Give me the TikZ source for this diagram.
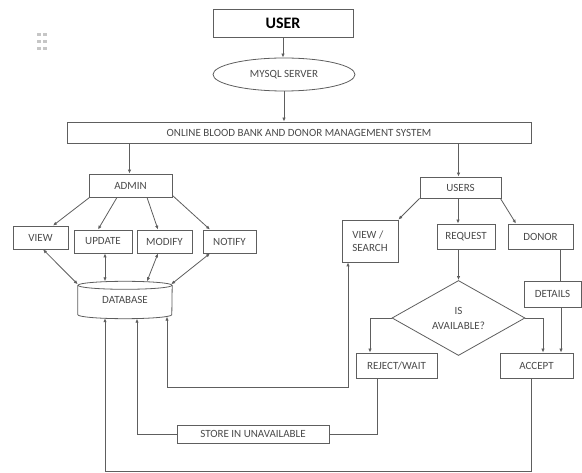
\documentclass[tikz,border=0pt]{standalone}
\usepackage{fontspec}
\setmainfont{Carlito}
\usetikzlibrary{arrows.meta,shapes.geometric,calc}
\definecolor{ln}{HTML}{5E5E5E}
\definecolor{tx}{HTML}{4A4A4A}
\begin{document}
\begin{tikzpicture}[x=1pt,y=-1pt,
  lbl/.style={font=\fontsize{11}{13}\selectfont, text=tx},
  box/.style={draw=ln, line width=0.8pt, rectangle, inner sep=0pt, lbl},
  conn/.style={draw=ln, line width=0.8pt},
  arr/.style={conn, -{Latex[length=4pt,width=3.4pt]}},
  darr/.style={conn, {Latex[length=4pt,width=3.4pt]}-{Latex[length=4pt,width=3.4pt]}}
]
\useasboundingbox (0,0) rectangle (582,473);
% drag handle icon
\foreach \xx in {37,43} \foreach \yy in {33,40,47} \fill[gray!45] (\xx,\yy) rectangle ++(4,3);

% nodes
\node[box, minimum width=140pt, minimum height=28pt, font=\fontsize{16}{18}\selectfont\bfseries, text=black] (user) at (283,23) {USER};
\node[ellipse, draw=ln, line width=0.8pt, inner sep=0pt, minimum width=142pt, minimum height=33pt, lbl] (mysql) at (284,74.5) {MYSQL SERVER};
\node[box, minimum width=464pt, minimum height=21pt] (obb) at (299,132.5) {ONLINE BLOOD BANK AND DONOR MANAGEMENT SYSTEM};
\node[box, minimum width=83pt, minimum height=23pt] (admin) at (130.5,185.5) {ADMIN};
\node[box, minimum width=55pt, minimum height=23pt] (view) at (40.5,237.5) {VIEW};
\node[box, minimum width=58pt, minimum height=23pt] (update) at (103,241.5) {UPDATE};
\node[box, minimum width=55pt, minimum height=23pt] (modify) at (164.5,241.5) {MODIFY};
\node[box, minimum width=53pt, minimum height=23pt] (notify) at (229.5,241.5) {NOTIFY};
\node[inner sep=0pt, minimum width=94pt, minimum height=37pt, lbl] (db) at (125,300) {DATABASE};
\draw[conn] ([yshift=-4pt]db.north) ellipse[x radius=47pt, y radius=4pt];
\draw[conn] ([yshift=-4pt]db.north west) -- ([yshift=4pt]db.south west)
  arc[start angle=180, end angle=360, x radius=47pt, y radius=4pt] -- ([yshift=-4pt]db.north east);

\node[box, minimum width=81pt, minimum height=21pt] (users) at (460.5,187.5) {USERS};
\node[box, minimum width=56pt, minimum height=42pt, align=left] (vsearch) at (370,241) {VIEW /\\SEARCH};
\node[box, minimum width=58pt, minimum height=25pt] (request) at (466,236.5) {REQUEST};
\node[box, minimum width=65pt, minimum height=25pt] (donor) at (540.5,236.5) {DONOR};
\node[box, minimum width=57pt, minimum height=26pt] (details) at (552.5,294) {DETAILS};
\node[diamond, draw=ln, line width=0.8pt, inner sep=0pt, minimum width=133pt, minimum height=66pt, align=center, lbl] (dia) at (458.5,318) {IS\\[2pt]AVAILABLE?};
\node[box, minimum width=81pt, minimum height=25pt] (reject) at (396.5,365.5) {REJECT/WAIT};
\node[box, minimum width=73pt, minimum height=25pt] (accept) at (536.5,365.5) {ACCEPT};
\node[box, minimum width=152pt, minimum height=18pt] (store) at (253,434) {STORE IN UNAVAILABLE};

% connectors top
\draw[arr] (user.south) -- (mysql.north -| user.south);
\draw[arr] (mysql.south) -- (obb.north -| mysql.south);
\draw[arr] ([xshift=-1pt]obb.south -| admin.north) -- ([xshift=-1pt]admin.north);
\draw[arr] ([xshift=-2pt]obb.south -| users.north) -- ([xshift=-2pt]users.north);

% admin side
\draw[arr] ([xshift=1pt]admin.south west) -- ([xshift=12.5pt]view.north);
\draw[arr] ([xshift=-13.5pt]admin.south) -- ([xshift=-5pt]update.north);
\draw[arr] ([xshift=16.5pt]admin.south) -- ([xshift=-6.5pt]modify.north);
\draw[arr] ([yshift=2pt]admin.south east) -- ([xshift=-19.5pt]notify.north);
\draw[darr] ([xshift=2.5pt]view.south) -- ([xshift=0pt,yshift=-3pt]db.north west);
\draw[darr] ([xshift=2pt]update.south) -- ([xshift=-20pt]db.north);
\draw[darr] ([xshift=-6.5pt]modify.south) -- ([xshift=22pt]db.north);
\draw[darr] ([xshift=-19.5pt]notify.south) -- ([xshift=-1pt,yshift=-3pt]db.north east);

% users side
\draw[arr] (users.south west) -- (vsearch.north east);
\draw[arr] ([xshift=-2.5pt]users.south) -- ([xshift=-2.5pt]users.south |- request.north);
\draw[arr] ([xshift=-1pt]users.south east) -- ([xshift=-24.5pt]donor.north);
\draw[arr] (dia.north |- request.south) -- (dia.north);
\draw[conn] ([xshift=19.5pt]donor.south) -- ([xshift=19.5pt]donor.south |- details.north);
\draw[arr] ([xshift=8.5pt]details.south) -- ([xshift=8.5pt]details.south |- accept.north);
\draw[arr] (dia.west) -| ([xshift=-26.5pt]reject.north);
\draw[arr] (dia.east) -| ([xshift=6.5pt]accept.north);

% return lines
\draw[darr] ([xshift=-22pt]vsearch.south) -- ([xshift=-22pt]vsearch.south |- 0,387) -| ([xshift=42pt,yshift=2pt]db.south);
\draw[conn] ([xshift=-19.5pt]reject.south) |- (store.east);
\draw[arr] (store.west) -| ([xshift=12pt]db.south);
\draw[arr] ([xshift=-5.5pt]accept.south) -- ([xshift=-5.5pt]accept.south |- 0,471) -| ([xshift=-20pt,yshift=0.5pt]db.south);
\end{tikzpicture}
\end{document}
